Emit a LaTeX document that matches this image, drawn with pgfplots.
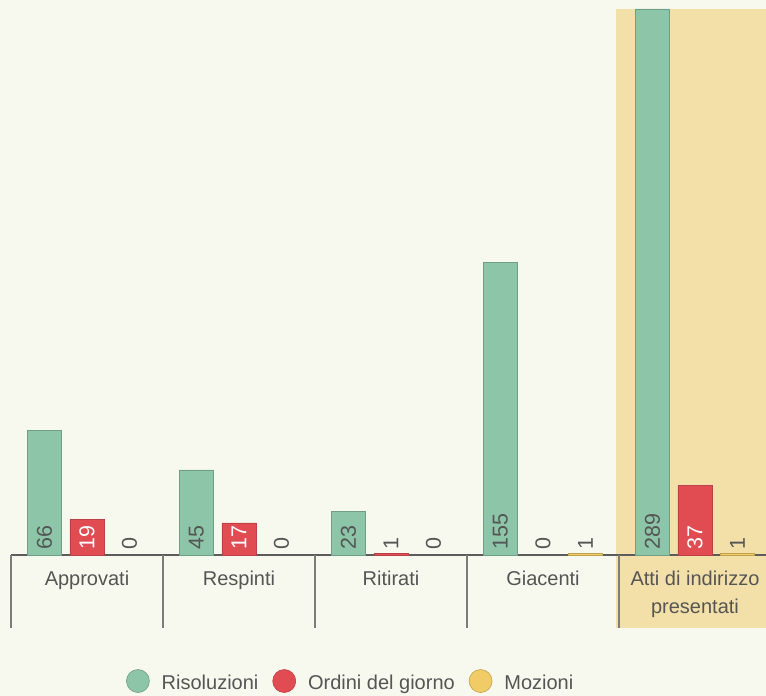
\documentclass[border=0pt]{standalone}
\usepackage{fontspec}
\setmainfont{Liberation Sans}
\usepackage{pgfplots}
\pgfplotsset{compat=1.18}
\usepackage{pgfplotstable}
\usetikzlibrary{backgrounds}

\definecolor{bgc}{HTML}{F8F9EE}
\definecolor{hlc}{HTML}{F3E0A8}
\definecolor{cris}{HTML}{8CC5A8}
\definecolor{codg}{HTML}{E14B52}
\definecolor{cmoz}{HTML}{F1CB65}
\definecolor{txtc}{HTML}{555555}
\definecolor{basec}{HTML}{5C5C5A}
\definecolor{sepc}{HTML}{7C7C78}

% atti di indirizzo: risoluzioni, ordini del giorno, mozioni
\pgfplotstableread{
x res odg moz
0 66  19 0
1 45  17 0
2 23  1  0
3 155 0  1
4 289 37 1
}\datatable

\newcommand{\lfont}{\fontsize{20}{28}\selectfont}
\newcommand{\nfont}{\fontsize{21.5}{24}\selectfont}

\begin{document}
\begin{tikzpicture}
\begin{axis}[
    scale only axis, width=760pt, height=546pt,
    xmin=-0.5, xmax=4.5, ymin=0, ymax=289,
    clip=false,
    axis x line*=bottom, axis y line=none, ytick=\empty,
    x axis line style={draw=basec, line width=2.2pt, -},
    xtick={0,...,4},
    xticklabels={Approvati,Respinti,Ritirati,Giacenti,{Atti di indirizzo\\presentati}},
    xticklabel style={font=\lfont, text=txtc, align=center, anchor=north, yshift=-12pt},
    major tick length=0pt,
    extra x ticks={-0.5,0.5,...,4.5},
    extra x tick labels={},
    extra x tick style={major tick length=73pt, tick align=outside,
        tick style={draw=sepc, line width=2pt}},
    legend columns=-1,
    legend style={at={(0.447,-0.231)}, anchor=center, draw=none, fill=none,
        font=\lfont, text=txtc,
        /tikz/every odd column/.append style={column sep=10pt},
        /tikz/every even column/.append style={column sep=12pt}},
    barsty/.style={ybar, bar width=0.224, line width=0.6pt,
        y filter/.expression={y==0 ? nan : y},
        legend image code/.code={\path[##1] (0pt,2pt) circle (11.5pt);}},
    labsty/.style={draw=none, mark=none, forget plot,
        point meta=explicit symbolic,
        nodes near coords style={font=\nfont, text=txtc, anchor=south, inner sep=5pt}},
]
\coordinate (O) at (axis cs:-0.5,0);
\coordinate (hl1) at (axis cs:3.48,289);
\coordinate (hl2) at ([yshift=-73pt]axis cs:4.6,0);

\addplot[barsty, bar shift=-0.28, fill=cris, draw=cris!80!black]
    table[x=x, y=res]{\datatable};
\addplot[barsty, bar shift=0, fill=codg, draw=codg!85!black]
    table[x=x, y=odg]{\datatable};
\addplot[barsty, bar shift=0.28, fill=cmoz, draw=cmoz!80!black]
    table[x=x, y=moz]{\datatable};
\legend{Risoluzioni, Ordini del giorno, Mozioni}

% value labels at the foot of each bar
\addplot[labsty, nodes near coords={\rotatebox{90}{\pgfplotspointmeta}}]
    table[x expr=\thisrow{x}-0.28, y expr=0, meta=res]{\datatable};
\addplot[labsty, nodes near coords={\ifnum\pgfplotspointmeta>3 \color{white}\fi\rotatebox{90}{\pgfplotspointmeta}}]
    table[x expr=\thisrow{x}, y expr=0, meta=odg]{\datatable};
\addplot[labsty, nodes near coords={\rotatebox{90}{\pgfplotspointmeta}}]
    table[x expr=\thisrow{x}+0.28, y expr=0, meta=moz]{\datatable};
\end{axis}

\begin{pgfonlayer}{background}
\fill[bgc] ([xshift=-11pt,yshift=-141pt]O) rectangle ([xshift=755pt,yshift=555pt]O);
\fill[hlc] (hl1) rectangle (hl2);
\end{pgfonlayer}
\pgfresetboundingbox
\path[use as bounding box] ([xshift=-11pt,yshift=-141pt]O) rectangle ([xshift=755pt,yshift=555pt]O);
\end{tikzpicture}
\end{document}
